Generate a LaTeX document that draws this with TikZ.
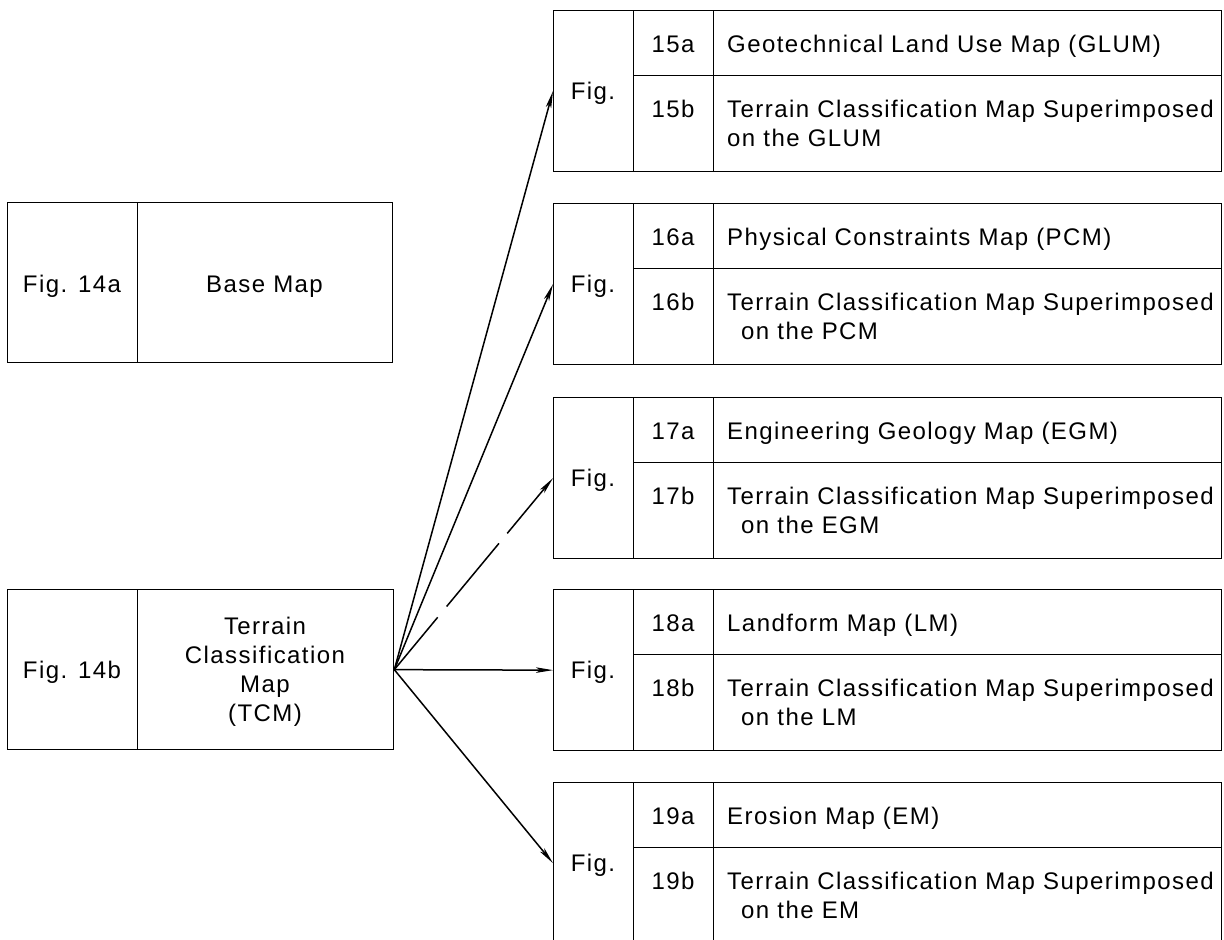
\documentclass[tikz,border=0pt]{standalone}
\usepackage{fontspec}
\setmainfont{Liberation Sans}[LetterSpace=6.0]
\usetikzlibrary{arrows.meta,calc}
\begin{document}
\begin{tikzpicture}[x=1pt,y=-1pt,
  cell/.style={draw,line width=1.3pt,inner sep=0pt,anchor=north west},
  txt/.style={inner sep=0pt,font=\fontsize{24}{29}\selectfont},
  conn/.style={line width=1.5pt,-{Stealth[length=17pt,width=5.5pt,inset=4pt]}},
  brokenconn/.style={conn,dash pattern=on 68pt off 14pt on 82pt off 13pt on 200pt off 1pt}
]
\useasboundingbox (0,0) rectangle (1224,940);
% left: base map
\node[cell,minimum width=130pt,minimum height=160pt] (f14a) at (7,202) {};
\node[cell,minimum width=255pt,minimum height=160pt] (base) at (137,202) {};
\node[txt,anchor=base] (f14at) at (72,292) {Fig. 14a};
\node[txt,anchor=base] (baset) at (264.5,292) {Base Map};
% left: TCM
\node[cell,minimum width=130pt,minimum height=160pt] (f14b) at (7,589) {};
\node[cell,minimum width=256pt,minimum height=160pt] (tcm) at (137,589) {};
\node[txt,anchor=base] (f14bt) at (72,678) {Fig. 14b};
\node[txt,anchor=base] (tcm1) at (265,634) {Terrain};
\node[txt,anchor=base] (tcm2) at (265,663) {Classification};
\node[txt,anchor=base] (tcm3) at (265,692) {Map};
\node[txt,anchor=base] (tcm4) at (265,721) {(TCM)};
% right groups
\foreach \n/\T/\ta/\tb/\ind in {
 15/10/{Geotechnical Land Use Map (GLUM)}/GLUM/0,
 16/203/{Physical Constraints Map (PCM)}/PCM/14,
 17/397/{Engineering Geology Map (EGM)}/EGM/14,
 18/589/{Landform Map (LM)}/LM/14,
 19/782/{Erosion Map (EM)}/EM/14}
{
 \node[cell,minimum width=80pt,minimum height=161pt] (fig\n) at (553,\T) {};
 \node[cell,minimum width=80pt,minimum height=65pt] (na\n) at (633,\T) {};
 \node[cell,minimum width=508pt,minimum height=65pt] (ta\n) at (713,\T) {};
 \node[cell,minimum width=80pt,minimum height=96pt] (nb\n) at (633,\T+65) {};
 \node[cell,minimum width=508pt,minimum height=96pt] (tb\n) at (713,\T+65) {};
 \node[txt,anchor=base] (figt\n) at (593,\T+89) {Fig.};
 \node[txt,anchor=base] (nat\n) at (673,\T+42) {\n a};
 \node[txt,anchor=base west] (tat\n) at (727,\T+42) {\ta};
 \node[txt,anchor=base] (nbt\n) at (673,\T+107) {\n b};
 \node[txt,anchor=base west] (tbt\n) at (727,\T+107) {Terrain Classification Map Superimposed};
 \node[txt,anchor=base west] (tbu\n) at (727+\ind,\T+136) {on the \tb};
}
% connectors
\draw[conn] (tcm.east) -- (fig15.west);
\draw[conn] (tcm.east) -- (fig16.west);
\draw[brokenconn] (tcm.east) -- (fig17.west);
\draw[conn] (tcm.east) -- (fig18.west);
\draw[conn] (tcm.east) -- (fig19.west);
\end{tikzpicture}
\end{document}
